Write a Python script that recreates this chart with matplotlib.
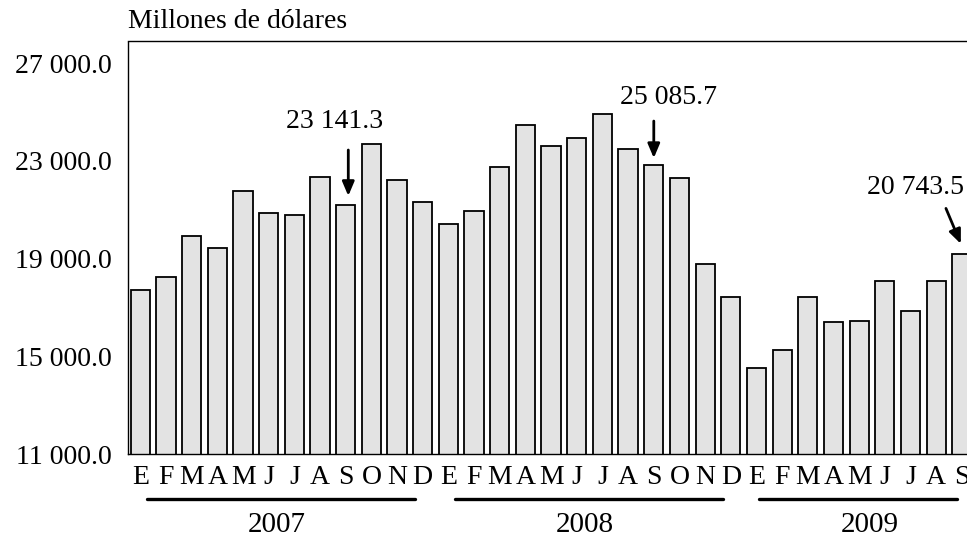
import matplotlib
matplotlib.use("Agg")
import matplotlib.pyplot as plt
from matplotlib.ticker import FixedLocator, FuncFormatter
import numpy as np

plt.rcParams["font.family"] = ["Liberation Serif", "DejaVu Serif"]

# Monthly values, Jan 2007 - Sep 2009 (millions of dollars, read on the axis scale)
months = list("EFMAMJJASOND") * 2 + list("EFMAMJJAS")
values_2007 = [17710, 18225, 19940, 19450, 21770, 20880, 20775, 22340, 21200, 23680, 22205, 21300]
values_2008 = [20430, 20960, 22760, 24480, 23620, 23920, 24915, 23470, 22840, 22290, 18770, 17445]
values_2009 = [14520, 15260, 17440, 16390, 16430, 18060, 16840, 18080, 19165]
values = values_2007 + values_2008 + values_2009

years = ["2007", "2008", "2009"]
year_spans = [(0.26, 10.7), (12.26, 22.7), (24.1, 31.8)]
year_centers = [5.33, 17.3, 28.4]

y_ticks = [11000, 15000, 19000, 23000, 27000]

# callouts: label, text position, arrow start, arrow tip
callouts = [
    ("23 141.3", (7.55, 24600), (8.1, 23440), (8.1, 21560)),
    ("25 085.7", (20.58, 25570), (20.0, 24625), (20.0, 23110)),
    ("20 743.5", (30.18, 21900), (31.38, 21050), (31.96, 19600)),
]

fig = plt.figure(figsize=(9.67, 5.38), dpi=100)
ax = fig.add_axes([127.5 / 967, 84 / 538, 1 - 127.5 / 967, 412.5 / 538])

x = np.arange(len(values))
ax.bar(x, values, width=0.75, color="#e3e3e3", edgecolor="black", linewidth=1.3)

ax.set_xlim(-0.5, 32.2)
ax.set_ylim(11000, 27880)

ax.yaxis.set_major_locator(FixedLocator(y_ticks))
ax.yaxis.set_major_formatter(FuncFormatter(lambda v, p: f"{v:,.1f}".replace(",", " ")))
ax.set_xticks(x)
ax.set_xticklabels(months)
ax.tick_params(axis="both", length=0, labelsize=20)
ax.tick_params(axis="y", pad=11)
ax.tick_params(axis="x", pad=8)

for side in ["left", "top", "bottom"]:
    ax.spines[side].set_linewidth(1.0)
ax.spines["right"].set_visible(False)

trans = ax.get_xaxis_transform()
for yr, (x0, x1), xc in zip(years, year_spans, year_centers):
    ax.plot([x0, x1], [-0.109, -0.109], color="black", lw=2.4,
            transform=trans, clip_on=False, solid_capstyle="round")
    ax.text(xc, -0.172, yr, transform=trans, ha="center", va="center", fontsize=21)

for label, txt_xy, start, tip in callouts:
    ax.text(txt_xy[0], txt_xy[1], label, ha="center", va="center", fontsize=20)
    ax.annotate("", xy=tip, xytext=start,
                arrowprops=dict(arrowstyle="-|>,head_length=0.85,head_width=0.36",
                                color="black", lw=2, shrinkA=0, shrinkB=0))

fig.text(127.5 / 967, 1 - 22 / 538, "Millones de dólares", ha="left", va="center", fontsize=20)

fig.savefig("out.png", dpi=100)
